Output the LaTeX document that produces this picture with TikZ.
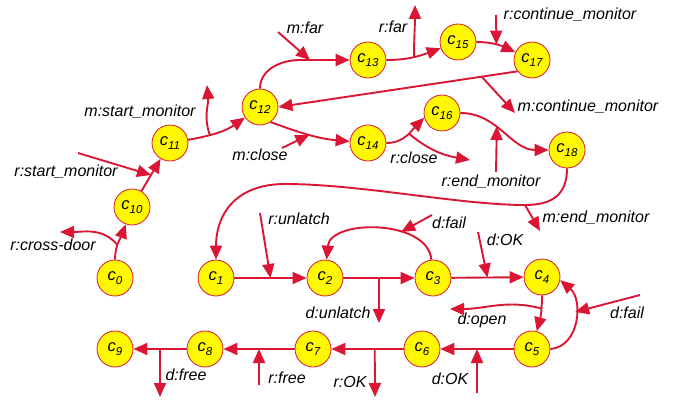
\documentclass[tikz,border=0pt]{standalone}
\usepackage{fontspec}
\setmainfont{Liberation Sans}
\usetikzlibrary{arrows.meta}
\definecolor{arcred}{RGB}{218,22,52}
\definecolor{stfill}{RGB}{255,248,0}
\newcommand{\cidx}[1]{c\raisebox{-3.5pt}{\fontsize{11.5}{12}\selectfont #1}}

\begin{document}
\begin{tikzpicture}[x=1pt,y=1pt,
  state/.style={circle,draw=arcred,line width=0.8pt,fill=stfill,minimum size=36pt,
    inner sep=0pt,font=\fontsize{16.5}{16}\selectfont\itshape},
  edge/.style={draw=arcred,line width=1.9pt,-{Triangle[length=14pt,width=12pt]}},
  lbl/.style={font=\fontsize{16}{18}\selectfont\itshape,inner sep=0pt}]
\useasboundingbox (0,0) rectangle (678,400);

% states
\node[state] (c0)  at (115,122) {\cidx{0}};
\node[state] (c10) at (132,193) {\cidx{10}};
\node[state] (c11) at (170,257) {\cidx{11}};
\node[state] (c12) at (260,293) {\cidx{12}};
\node[state] (c13) at (368,340) {\cidx{13}};
\node[state] (c14) at (368,257) {\cidx{14}};
\node[state] (c15) at (458,358) {\cidx{15}};
\node[state] (c16) at (442,287) {\cidx{16}};
\node[state] (c17) at (532,340) {\cidx{17}};
\node[state] (c18) at (567,250) {\cidx{18}};
\node[state] (c1)  at (216,122) {\cidx{1}};
\node[state] (c2)  at (325,122) {\cidx{2}};
\node[state] (c3)  at (433,122) {\cidx{3}};
\node[state] (c4)  at (542,123) {\cidx{4}};
\node[state] (c5)  at (532,51)  {\cidx{5}};
\node[state] (c6)  at (422,51)  {\cidx{6}};
\node[state] (c7)  at (313,51)  {\cidx{7}};
\node[state] (c8)  at (205,51)  {\cidx{8}};
\node[state] (c9)  at (115,51)  {\cidx{9}};

% free ends of the side arrows
\coordinate (xcd)  at (60,168);
\coordinate (sm0)  at (78,247);
\coordinate (smo)  at (207,315);
\coordinate (far0) at (278,368);
\coordinate (k12)  at (300,340);
\coordinate (rfar) at (415,395);
\coordinate (cm0)  at (496,385);
\coordinate (mcm)  at (515,287);
\coordinate (mc0)  at (282,252);
\coordinate (rcl)  at (470,240);
\coordinate (em0)  at (496,228);
\coordinate (r1)   at (525,195);
\coordinate (r2)   at (285,216);
\coordinate (mem)  at (540,169);
\coordinate (ul0)  at (260,187);
\coordinate (dul)  at (379,77);
\coordinate (df0)  at (432,185);
\coordinate (ok0)  at (478,168);
\coordinate (dop)  at (450,91);
\coordinate (df1)  at (640,105);
\coordinate (ok1)  at (477,7);
\coordinate (rok)  at (375,3);
\coordinate (rf0)  at (259,15);
\coordinate (dfr)  at (160,3);

% transitions
\draw[edge] (c0) to[out=90,in=-110] coordinate[pos=0.4] (j0) (c10);
\draw[edge] (j0) to[out=130,in=0] (xcd);

\draw[edge] (c10) -- coordinate[pos=0.5] (j10) (c11);
\draw[edge] (sm0) -- (j10);

\draw[edge] (c11) to[out=10,in=-145] coordinate[pos=0.35] (j11) (c12);
\draw[edge] (j11) to[out=110,in=-85] (smo);

\draw[edge] (c12) to[out=90,in=180] (k12) -- coordinate[pos=0.2] (jfar) (c13);
\draw[edge] (far0) -- (jfar);

\draw[edge] (c13) to[out=0,in=200] coordinate[pos=0.5] (j13) (c15);
\draw[edge] (j13) to[out=90,in=-90] (rfar);

\draw[edge] (c15) to[out=0,in=155] coordinate[pos=0.5] (j15) (c17);
\draw[edge] (cm0) -- (j15);

\draw[edge] (c17.218) -- coordinate[pos=0.15] (j17) (c12.east);
\draw[edge] (j17) -- (mcm);

\draw[edge] (c12.-55) to[out=-20,in=175] coordinate[pos=0.5] (j12) (c14);
\draw[edge] (mc0) -- (j12);

\draw[edge] (c14) to[out=0,in=-135] coordinate[pos=0.55] (j14) (c16.195);
\draw[edge] (j14) to[out=-40,in=170] (rcl);

\draw[edge] (c16) to[out=0,in=180] coordinate[pos=0.4] (j16) (c18);
\draw[edge] (em0) -- (j16);

\draw[edge] (c18) .. controls (567,205) and (552,195) .. (r1)
  .. controls (460,195) and (360,216) .. (r2)
  .. controls (235,216) and (216,185) .. (c1);
\draw[edge] (r1) -- (mem);

\draw[edge] (c1) -- coordinate (j1) (c2);
\draw[edge] (ul0) -- (j1);

\draw[edge] (c2) -- coordinate (j2) (c3);
\draw[edge] (j2) -- (dul);

\draw[edge] (c3) to[out=95,in=85] coordinate[pos=0.35] (j3) (c2);
\draw[edge] (df0) -- (j3);

\draw[edge] (c3) -- coordinate (j3b) (c4);
\draw[edge] (ok0) -- (j3b);

\draw[edge] (c4) to[out=-90,in=75] coordinate[pos=0.35] (j4) (c5);
\draw[edge] (j4) to[out=165,in=0] (dop);

\draw[edge] (c5.east) to[out=5,in=-40,looseness=1.1] coordinate[pos=0.6] (j5) (c4.-10);
\draw[edge] (df1) -- (j5);

\draw[edge] (c5) -- coordinate (j5b) (c6);
\draw[edge] (ok1) -- (j5b);

\draw[edge] (c6) -- coordinate[pos=0.4] (j6) (c7);
\draw[edge] (j6) -- (rok);

\draw[edge] (c7) -- coordinate (j7) (c8);
\draw[edge] (rf0) -- (j7);

\draw[edge] (c8) -- coordinate (j8) (c9);
\draw[edge] (j8) -- (dfr);

% event labels
\node[lbl] (lcd)  at (53,155)  {r:cross-door};
\node[lbl] (lsm)  at (66,228)  {r:start\_monitor};
\node[lbl] (lms)  at (140,288) {m:start\_monitor};
\node[lbl] (lmf)  at (305,372) {m:far};
\node[lbl] (lrf)  at (393,373) {r:far};
\node[lbl] (lrc)  at (570,385) {r:continue\_monitor};
\node[lbl] (lmc)  at (588,293) {m:continue\_monitor};
\node[lbl] (lmcl) at (260,245) {m:close};
\node[lbl] (lrcl) at (414,242) {r:close};
\node[lbl] (lrem) at (491,218) {r:end\_monitor};
\node[lbl] (lmem) at (596,182) {m:end\_monitor};
\node[lbl] (lrul) at (299,181) {r:unlatch};
\node[lbl] (ldul) at (338,87)  {d:unlatch};
\node[lbl] (ldf1) at (449,177) {d:fail};
\node[lbl] (lok1) at (505,160) {d:OK};
\node[lbl] (lop)  at (482,80)  {d:open};
\node[lbl] (ldf2) at (627,87)  {d:fail};
\node[lbl] (lok2) at (450,21)  {d:OK};
\node[lbl] (lrok) at (350,18)  {r:OK};
\node[lbl] (lrfr) at (287,22)  {r:free};
\node[lbl] (ldfr) at (186,25)  {d:free};
\end{tikzpicture}
\end{document}
